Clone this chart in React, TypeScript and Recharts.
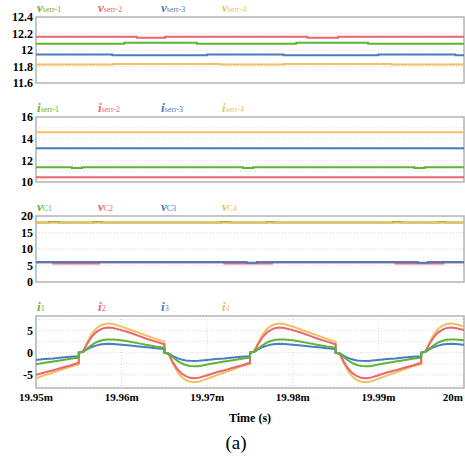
import { LineChart, Line, XAxis, YAxis, CartesianGrid, ReferenceArea } from 'recharts';

const W = 465;
const H = 459;
const PLOT_RIGHT = 464;
const FONT = '"Liberation Serif", "Times New Roman", serif';

const GREEN = '#5db536';
const RED = '#e8676e';
const BLUE = '#4a7cc0';
const YELLOW = '#eec164';

const xTicks = [19.95, 19.96, 19.97, 19.98, 19.99, 20];
const xTickLabels = ['19.95m', '19.96m', '19.97m', '19.98m', '19.99m', '20m'];

// panel 1: serr voltages (step values, [time ms, V])
const vSerr1: [number, number][] = [[19.95, 12.075], [19.9603, 12.088], [19.9688, 12.075], [19.9804, 12.088], [19.9888, 12.075], [20, 12.075]];
const vSerr2: [number, number][] = [[19.95, 12.16], [19.9618, 12.15], [19.9651, 12.16], [19.9817, 12.15], [19.9853, 12.16], [20, 12.16]];
const vSerr3: [number, number][] = [[19.95, 11.945], [19.9589, 11.935], [19.97, 11.945], [19.9789, 11.935], [19.99, 11.945], [19.999, 11.935], [20, 11.935]];
const vSerr4: [number, number][] = [[19.95, 11.825], [19.959, 11.83], [19.9715, 11.825], [19.979, 11.83], [19.9915, 11.825], [20, 11.825]];

// panel 2: serr currents
const iSerr1: [number, number][] = [[19.95, 11.36], [19.9542, 11.3], [19.9554, 11.36], [19.9742, 11.3], [19.9754, 11.36], [19.9942, 11.3], [19.9954, 11.36], [20, 11.36]];
const iSerr2: [number, number][] = [[19.95, 10.45], [20, 10.45]];
const iSerr3: [number, number][] = [[19.95, 13.12], [20, 13.12]];
const iSerr4: [number, number][] = [[19.95, 14.6], [20, 14.6]];

// panel 3: capacitor voltages
const vC1: [number, number][] = [[19.95, 18.05], [19.9515, 18.15], [19.9527, 18.05], [19.9567, 18.15], [19.9577, 18.05], [19.9716, 18.15], [19.9727, 18.05], [19.977, 18.15], [19.9777, 18.05], [19.9917, 18.15], [19.9927, 18.05], [19.9971, 18.15], [19.9978, 18.05], [20, 18.05]];
const vC2: [number, number][] = [[19.95, 5.9], [19.952, 5.6], [19.9574, 5.9], [19.972, 5.6], [19.9776, 5.9], [19.992, 5.6], [19.9976, 5.9], [20, 5.9]];
const vC3: [number, number][] = [[19.95, 6.05], [19.9746, 5.8], [19.9758, 6.05], [19.9946, 5.8], [19.9958, 6.05], [20, 6.05]];
const vC4: [number, number][] = [[19.95, 17.92], [20, 17.92]];

// panel 4: inductor currents
const time = [
  19.95, 19.951, 19.952, 19.953, 19.954, 19.955,
  19.955, 19.9555, 19.956, 19.9565, 19.957, 19.9575, 19.958, 19.9585, 19.959, 19.96, 19.961, 19.962, 19.963, 19.964, 19.965,
  19.965, 19.9655, 19.966, 19.9665, 19.967, 19.9675, 19.968, 19.9685, 19.969, 19.97, 19.971, 19.972, 19.973, 19.974, 19.975,
  19.975, 19.9755, 19.976, 19.9765, 19.977, 19.9775, 19.978, 19.9785, 19.979, 19.98, 19.981, 19.982, 19.983, 19.984, 19.985,
  19.985, 19.9855, 19.986, 19.9865, 19.987, 19.9875, 19.988, 19.9885, 19.989, 19.99, 19.991, 19.992, 19.993, 19.994, 19.995,
  19.995, 19.9955, 19.996, 19.9965, 19.997, 19.9975, 19.998, 19.9985, 19.999, 20,
];
const i1 = [
  -2.6, -2.3, -2.0, -1.7, -1.4, -1.1,
  0, 0.2, 1.0, 1.7, 2.3, 2.7, 2.9, 3.0, 3.0, 2.8, 2.45, 2.1, 1.75, 1.4, 1.1,
  0, -0.2, -1.1, -1.8, -2.4, -2.8, -3.0, -3.1, -3.05, -2.7, -2.35, -2.0, -1.7, -1.4, -1.1,
  0, 0.2, 1.0, 1.7, 2.3, 2.7, 2.9, 3.0, 3.0, 2.8, 2.45, 2.1, 1.75, 1.4, 1.1,
  0, -0.2, -1.1, -1.8, -2.4, -2.8, -3.0, -3.1, -3.05, -2.7, -2.35, -2.0, -1.7, -1.4, -1.1,
  0, 0.2, 1.0, 1.7, 2.3, 2.7, 2.9, 3.0, 3.0, 2.8,
];
const i2 = [
  -5.0, -4.5, -4.0, -3.4, -2.9, -2.3,
  0, 0.3, 2.1, 3.6, 4.6, 5.2, 5.6, 5.7, 5.6, 5.1, 4.5, 3.8, 3.1, 2.5, 1.9,
  0, -0.3, -2.2, -3.7, -4.7, -5.3, -5.7, -5.8, -5.7, -5.1, -4.5, -4.0, -3.4, -2.9, -2.3,
  0, 0.3, 2.1, 3.6, 4.6, 5.2, 5.6, 5.7, 5.6, 5.1, 4.5, 3.8, 3.1, 2.5, 1.9,
  0, -0.3, -2.2, -3.7, -4.7, -5.3, -5.7, -5.8, -5.7, -5.1, -4.5, -4.0, -3.4, -2.9, -2.3,
  0, 0.3, 2.1, 3.6, 4.6, 5.2, 5.6, 5.7, 5.6, 5.1,
];
const i3 = [
  -1.65, -1.45, -1.3, -1.1, -0.95, -0.8,
  0, 0.2, 0.8, 1.3, 1.6, 1.85, 1.95, 2.0, 1.95, 1.8, 1.6, 1.4, 1.2, 1.0, 0.85,
  0, -0.2, -0.8, -1.25, -1.55, -1.75, -1.85, -1.9, -1.85, -1.65, -1.45, -1.3, -1.1, -0.95, -0.8,
  0, 0.2, 0.8, 1.3, 1.6, 1.85, 1.95, 2.0, 1.95, 1.8, 1.6, 1.4, 1.2, 1.0, 0.85,
  0, -0.2, -0.8, -1.25, -1.55, -1.75, -1.85, -1.9, -1.85, -1.65, -1.45, -1.3, -1.1, -0.95, -0.8,
  0, 0.2, 0.8, 1.3, 1.6, 1.85, 1.95, 2.0, 1.95, 1.8,
];
const i4 = [
  -5.8, -5.1, -4.5, -3.8, -3.2, -2.6,
  0, 0.3, 2.5, 4.2, 5.4, 6.1, 6.5, 6.6, 6.5, 5.9, 5.2, 4.5, 3.8, 3.1, 2.5,
  0, -0.3, -2.6, -4.3, -5.5, -6.2, -6.6, -6.7, -6.6, -5.9, -5.2, -4.5, -3.8, -3.1, -2.6,
  0, 0.3, 2.5, 4.2, 5.4, 6.1, 6.5, 6.6, 6.5, 5.9, 5.2, 4.5, 3.8, 3.1, 2.5,
  0, -0.3, -2.6, -4.3, -5.5, -6.2, -6.6, -6.7, -6.6, -5.9, -5.2, -4.5, -3.8, -3.1, -2.6,
  0, 0.3, 2.5, 4.2, 5.4, 6.1, 6.5, 6.6, 6.5, 5.9,
];

const toRows = (pts: [number, number][]) => pts.map(([t, v]) => ({ t, v }));
const currentRows = time.map((t, k) => ({ t, i1: i1[k], i2: i2[k], i3: i3[k], i4: i4[k] }));

const legendX = [37, 98, 161, 222];

type Series = { key: string; color: string; data?: [number, number][] };
type LegendItem = { main: string; sub: string; color: string };

const tickStyle = { fontFamily: FONT, fontWeight: 'bold' as const };

function XTick(props: any) {
  const { x, y, payload, index } = props;
  const last = index === xTicks.length - 1;
  return (
    <text
      x={last ? W - 2 : x}
      y={y}
      dy="0.71em"
      textAnchor={last ? 'end' : 'middle'}
      fill="#000"
      fontSize={11}
      style={tickStyle}
    >
      {xTickLabels[xTicks.indexOf(payload.value)]}
    </text>
  );
}

function YTick(props: any) {
  const { x, y, payload } = props;
  return (
    <text x={x} y={y} dy="0.35em" textAnchor="end" fill="#000" fontSize={12} style={tickStyle}>
      {String(payload.value)}
    </text>
  );
}

function Panel({
  top, height, domain, ticks, grid, series, legend, showX, rows,
}: {
  top: number; height: number; domain: [number, number]; ticks: number[]; grid: number[];
  series: Series[]; legend: LegendItem[]; showX?: boolean; rows?: any[];
}) {
  const mt = 9;
  const mb = showX ? 0 : 9;
  const xh = showX ? 22 : 0;
  return (
    <>
      <div style={{ position: 'absolute', left: 0, top: top - mt }}>
        <LineChart
          width={W}
          height={height + mt + mb + xh}
          data={rows}
          margin={{ top: mt, right: W - PLOT_RIGHT, bottom: mb, left: 0 }}
        >
          <CartesianGrid
            stroke="#d9d9d9"
            strokeDasharray="1 2"
            horizontalValues={grid}
            verticalValues={xTicks}
          />
          <XAxis
            dataKey="t"
            type="number"
            domain={[19.95, 20]}
            ticks={xTicks}
            allowDataOverflow
            height={xh}
            axisLine={false}
            tickLine={false}
            tickSize={0}
            tickMargin={5}
            tick={showX ? <XTick /> : false}
            interval={0}
          />
          <YAxis
            type="number"
            domain={domain}
            ticks={ticks}
            allowDataOverflow
            width={36}
            axisLine={false}
            tickLine={false}
            tickSize={0}
            tickMargin={3}
            interval={0}
            tick={<YTick />}
          />
          {series.map((s) => (
            <Line
              key={s.key}
              data={s.data ? toRows(s.data) : undefined}
              dataKey={s.data ? 'v' : s.key}
              type={s.data ? 'stepAfter' : 'linear'}
              stroke={s.color}
              strokeWidth={2}
              dot={false}
              isAnimationActive={false}
            />
          ))}
          <ReferenceArea
            x1={19.95}
            x2={20}
            y1={domain[0]}
            y2={domain[1]}
            fill="none"
            stroke="#b4b4b4"
            strokeWidth={1.5}
            ifOverflow="visible"
          />
        </LineChart>
      </div>
      {legend.map((l, k) => (
        <span
          key={l.sub}
          style={{
            position: 'absolute', left: legendX[k], top: top - 17, lineHeight: '14px',
            color: l.color, fontFamily: FONT, whiteSpace: 'nowrap',
          }}
        >
          <span style={{ fontStyle: 'italic', fontWeight: 'bold', fontSize: 13 }}>{l.main}</span>
          <span style={{ fontSize: 8 }}>{l.sub}</span>
        </span>
      ))}
    </>
  );
}

export default function App() {
  return (
    <div style={{ position: 'absolute', left: 0, top: 0, width: W, height: H, background: '#fff', fontFamily: FONT }}>
      <Panel
        top={17}
        height={66}
        domain={[11.6, 12.4]}
        ticks={[11.6, 11.8, 12, 12.2, 12.4]}
        grid={[11.8, 12, 12.2]}
        series={[
          { key: 'v4', color: YELLOW, data: vSerr4 },
          { key: 'v3', color: BLUE, data: vSerr3 },
          { key: 'v2', color: RED, data: vSerr2 },
          { key: 'v1', color: GREEN, data: vSerr1 },
        ]}
        legend={[
          { main: 'v', sub: 'serr-1', color: GREEN },
          { main: 'v', sub: 'serr-2', color: RED },
          { main: 'v', sub: 'serr-3', color: BLUE },
          { main: 'v', sub: 'serr-4', color: YELLOW },
        ]}
      />
      <Panel
        top={117}
        height={65}
        domain={[10, 16]}
        ticks={[10, 12, 14, 16]}
        grid={[11, 12, 13, 14, 15]}
        series={[
          { key: 'a4', color: YELLOW, data: iSerr4 },
          { key: 'a3', color: BLUE, data: iSerr3 },
          { key: 'a2', color: RED, data: iSerr2 },
          { key: 'a1', color: GREEN, data: iSerr1 },
        ]}
        legend={[
          { main: 'i', sub: 'serr-1', color: GREEN },
          { main: 'i', sub: 'serr-2', color: RED },
          { main: 'i', sub: 'serr-3', color: BLUE },
          { main: 'i', sub: 'serr-4', color: YELLOW },
        ]}
      />
      <Panel
        top={216}
        height={66}
        domain={[0, 20]}
        ticks={[0, 5, 10, 15, 20]}
        grid={[5, 10, 15]}
        series={[
          { key: 'c1', color: GREEN, data: vC1 },
          { key: 'c4', color: YELLOW, data: vC4 },
          { key: 'c2', color: RED, data: vC2 },
          { key: 'c3', color: BLUE, data: vC3 },
        ]}
        legend={[
          { main: 'v', sub: 'C1', color: GREEN },
          { main: 'v', sub: 'C2', color: RED },
          { main: 'v', sub: 'C3', color: BLUE },
          { main: 'v', sub: 'C4', color: YELLOW },
        ]}
      />
      <Panel
        top={316}
        height={72}
        domain={[-8, 8.3]}
        ticks={[-5, 0, 5]}
        grid={[-7.5, -5, -2.5, 0, 2.5, 5, 7.5]}
        rows={currentRows}
        showX
        series={[
          { key: 'i4', color: YELLOW },
          { key: 'i2', color: RED },
          { key: 'i3', color: BLUE },
          { key: 'i1', color: GREEN },
        ]}
        legend={[
          { main: 'i', sub: '1', color: GREEN },
          { main: 'i', sub: '2', color: RED },
          { main: 'i', sub: '3', color: BLUE },
          { main: 'i', sub: '4', color: YELLOW },
        ]}
      />
      <div
        style={{
          position: 'absolute', left: 200, width: 100, top: 410, textAlign: 'center',
          fontSize: 12, fontWeight: 'bold', lineHeight: '16px',
        }}
      >
        Time (s)
      </div>
      <div
        style={{
          position: 'absolute', left: 186, width: 100, top: 431, textAlign: 'center',
          fontSize: 19, lineHeight: '24px',
        }}
      >
        (a)
      </div>
    </div>
  );
}
